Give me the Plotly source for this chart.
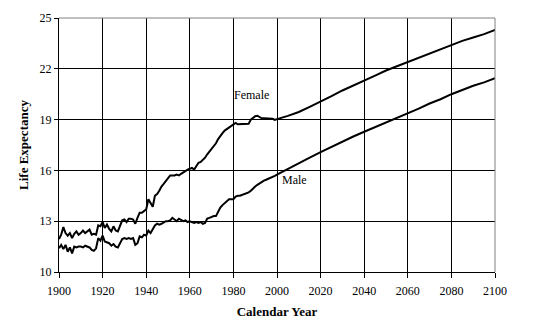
import plotly.graph_objects as go

# Period life expectancy at age 65, historical (yearly) and projected (5-yearly)
hist_years = list(range(1900, 2001))
female_hist = [
    11.95, 12.2, 12.65, 12.3, 12.15, 12.3, 12.0, 12.25, 12.4, 12.2,
    12.3, 12.45, 12.3, 12.4, 12.5, 12.2, 12.25, 12.2, 12.75, 12.7,
    12.95, 12.6, 12.8, 12.55, 12.4, 12.7, 12.45, 12.4, 12.75, 13.05,
    13.1, 12.95, 13.15, 13.15, 13.1, 12.85, 13.2, 13.5, 13.5, 13.6,
    13.7, 14.3, 14.1, 13.85, 14.5, 14.6, 14.8, 15.05, 15.2, 15.35,
    15.55, 15.7, 15.7, 15.7, 15.75, 15.7, 15.8, 15.9, 16.0, 16.05,
    16.1, 16.15, 16.05, 16.25, 16.45, 16.5, 16.6, 16.75, 16.95, 17.1,
    17.25, 17.4, 17.6, 17.85, 18.05, 18.2, 18.35, 18.45, 18.55, 18.6,
    18.75, 18.8, 18.72, 18.72, 18.72, 18.72, 18.75, 18.75, 19.0, 19.1,
    19.2, 19.23, 19.15, 19.08, 19.08, 19.08, 19.08, 19.08, 19.05, 18.98,
    19.03,
]
male_hist = [
    11.4, 11.6, 11.35, 11.6, 11.2, 11.45, 11.1, 11.5, 11.45, 11.5,
    11.5, 11.45, 11.55, 11.5, 11.45, 11.3, 11.25, 11.4, 12.0, 11.85,
    12.15, 11.8, 11.75, 11.7, 11.55, 11.65, 11.5, 11.45, 11.7, 11.95,
    12.0, 11.95, 12.0, 11.95, 12.0, 11.6, 11.7, 12.1, 12.05, 12.2,
    12.15, 12.45, 12.3, 12.5, 12.75, 12.85, 12.8, 12.85, 12.95, 13.0,
    13.0, 13.05, 13.2, 13.1, 13.0, 13.15, 13.05, 13.0, 13.05, 12.95,
    13.0, 12.95, 12.9, 12.95, 12.9, 12.95, 12.85, 12.9, 13.15, 13.2,
    13.25, 13.3, 13.3, 13.55, 13.8, 13.95, 14.05, 14.15, 14.3, 14.3,
    14.3, 14.45, 14.5, 14.5, 14.55, 14.6, 14.65, 14.7, 14.8, 14.95,
    15.05, 15.15, 15.25, 15.35, 15.4, 15.45, 15.5, 15.55, 15.6, 15.68,
    15.75,
]

proj_years = list(range(2005, 2101, 5))
female_proj = [19.22, 19.45, 19.75, 20.05, 20.38, 20.72, 21.0, 21.3, 21.6, 21.9,
               22.15, 22.4, 22.65, 22.9, 23.15, 23.4, 23.65, 23.85, 24.05, 24.3]
male_proj = [16.1, 16.42, 16.75, 17.08, 17.4, 17.7, 18.0, 18.28, 18.55, 18.85,
             19.1, 19.4, 19.65, 19.95, 20.2, 20.5, 20.75, 21.0, 21.2, 21.45]

years = hist_years + proj_years
female = female_hist + female_proj
male = male_hist + male_proj

x_ticks = list(range(1900, 2101, 20))
y_ticks = [10, 13, 16, 19, 22, 25]

FONT = "Liberation Serif, Times New Roman, serif"

fig = go.Figure()
fig.add_trace(go.Scatter(x=years, y=female, mode="lines", name="Female",
                         line=dict(color="black", width=2)))
fig.add_trace(go.Scatter(x=years, y=male, mode="lines", name="Male",
                         line=dict(color="black", width=2)))

fig.add_annotation(x=1988.5, y=20.45, text="Female", showarrow=False,
                   font=dict(family=FONT, size=12, color="black"))
fig.add_annotation(x=2008, y=15.43, text="Male", showarrow=False,
                   font=dict(family=FONT, size=12, color="black"))

# grey frame on the top and right edges
fig.add_shape(type="line", xref="paper", yref="paper", x0=0, x1=1, y0=1, y1=1,
              line=dict(color="#808080", width=1), layer="above")
fig.add_shape(type="line", xref="paper", yref="paper", x0=1, x1=1, y0=0, y1=1,
              line=dict(color="#808080", width=1), layer="above")

fig.update_layout(
    width=541, height=325,
    margin=dict(l=59, r=46, t=18, b=53),
    paper_bgcolor="white", plot_bgcolor="white",
    showlegend=False,
    font=dict(family=FONT, size=12, color="black"),
)
fig.update_xaxes(
    range=[1900, 2100], tickvals=x_ticks, automargin=False,
    showgrid=True, gridcolor="black", gridwidth=1,
    showline=True, linecolor="black", linewidth=1,
    ticks="outside", ticklen=5, tickcolor="black", ticklabelstandoff=3,
    tickfont=dict(family=FONT, size=12, color="black"),
    title=dict(text="<b>Calendar Year</b>", font=dict(family=FONT, size=13), standoff=9),
    zeroline=False,
)
fig.update_yaxes(
    range=[10, 25], tickvals=y_ticks, automargin=False,
    showgrid=True, gridcolor="black", gridwidth=1,
    showline=True, linecolor="black", linewidth=1,
    ticks="outside", ticklen=4, tickcolor="black",
    tickfont=dict(family=FONT, size=12, color="black"),
    title=dict(text="<b>Life Expectancy</b>", font=dict(family=FONT, size=13), standoff=8),
    zeroline=False,
)

fig.write_html("out.html")
